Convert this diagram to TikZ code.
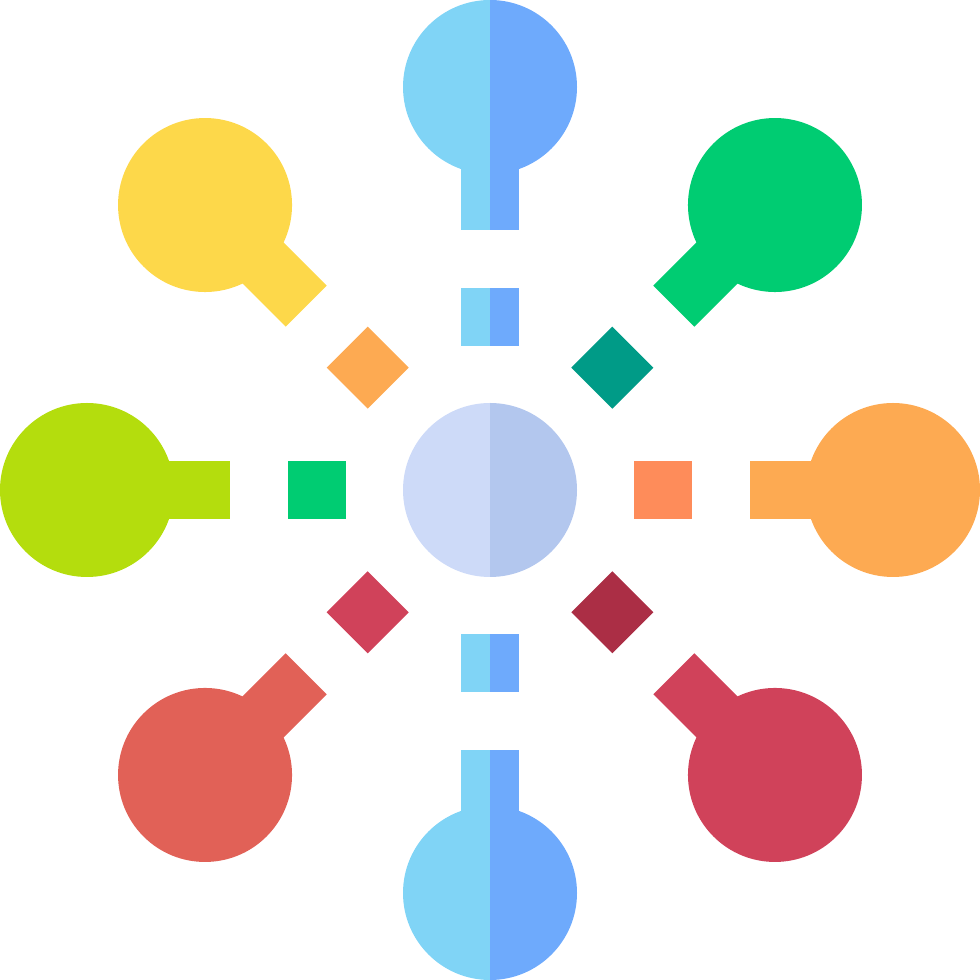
\documentclass[tikz,border=0pt]{standalone}
\usepackage{tikz}

\definecolor{skyA}{HTML}{80D4F6}
\definecolor{skyB}{HTML}{6EAAFC}
\definecolor{hubA}{HTML}{CDDAF8}
\definecolor{hubB}{HTML}{B3C7EE}
\definecolor{yellowA}{HTML}{FDD84A}
\definecolor{orangeA}{HTML}{FDAA52}
\definecolor{orangeB}{HTML}{FE8C5A}
\definecolor{greenA}{HTML}{00CC72}
\definecolor{tealA}{HTML}{009B87}
\definecolor{limeA}{HTML}{B4DD0D}
\definecolor{salmonA}{HTML}{E16157}
\definecolor{crimsonA}{HTML}{D0425A}
\definecolor{crimsonB}{HTML}{AB2E45}

\begin{document}
\begin{tikzpicture}[
        x=0.01cm, y=0.01cm,
        patch/.style={draw=none}
    ]
        % Frame
        \useasboundingbox (-490,-490) rectangle (490,490);

        % Central hub, two halves
        \fill[hubA] (0,87) arc[start angle=90, end angle=270, radius=87] -- cycle;
        \fill[hubB] (0,-87) arc[start angle=-90, end angle=90, radius=87] -- cycle;

        % Coloured arms (circle, stem and chip)
        \foreach \ang/\body/\chip in {-45/greenA/tealA, -90/orangeA/orangeB,
                -135/crimsonA/crimsonB, 135/salmonA/crimsonA,
                90/limeA/greenA, 45/yellowA/orangeA}{
            \begin{scope}[rotate=\ang]
                \fill[\body] (0,403) circle (87);
                \fill[\body] (-29,260) rectangle (29,403);
                \fill[\chip] (-29,144) rectangle (29,202);
            \end{scope}
        }

        % Split arms, top and bottom
        \foreach \s in {1,-1}{
            \fill[skyA] (0,\s*403+87) arc[start angle=90, end angle=270, radius=87] -- cycle;
            \fill[skyB] (0,\s*403-87) arc[start angle=-90, end angle=90, radius=87] -- cycle;
            \fill[skyA] (-29,\s*260) rectangle (0,\s*403);
            \fill[skyB] (0,\s*260) rectangle (29,\s*403);
            \fill[skyA] (-29,\s*144) rectangle (0,\s*202);
            \fill[skyB] (0,\s*144) rectangle (29,\s*202);
        }
    \end{tikzpicture}
\end{document}
